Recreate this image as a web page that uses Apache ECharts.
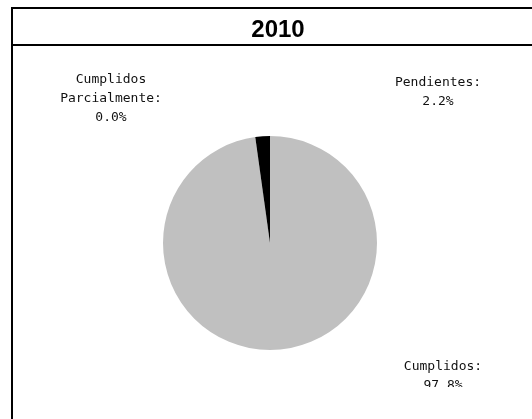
<!DOCTYPE html>
<html>
<head>
<meta charset="utf-8">
<script src="https://cdn.jsdelivr.net/npm/echarts@6/dist/echarts.min.js"></script>
<style>
html,body{margin:0;padding:0;background:#fff;}
#chart{width:532px;height:419px;}
</style>
</head>
<body>
<div id="chart"></div>
<script>
var titleText = '2010';
var categories = ['Cumplidos', 'Cumplidos\nParcialmente', 'Pendientes'];
var values = [97.8, 0.0, 2.2];
var colors = ['#C0C0C0', '#FFFFFF', '#000000'];
var labelPos = [[443, 376], [111, 99], [438, 92]];

var chart = echarts.init(document.getElementById('chart'), null, {renderer: 'canvas'});
var data = categories.map(function (c, i) {
  return {name: c, value: values[i], itemStyle: {color: colors[i]}};
});
chart.setOption({
  animation: false,
  backgroundColor: '#ffffff',
  title: {
    text: titleText,
    left: 273,
    top: 13,
    textAlign: 'center',
    textStyle: {fontFamily: 'Liberation Sans, Arial, sans-serif', fontSize: 24, fontWeight: 'bold', color: '#000'}
  },
  series: [{
    type: 'pie',
    center: [270, 243],
    radius: 107,
    startAngle: 90,
    clockwise: true,
    percentPrecision: 1,
    data: data,
    itemStyle: {borderWidth: 0},
    emphasis: {disabled: true},
    labelLine: {show: false},
    label: {
      show: true,
      position: 'outside',
      formatter: function (p) { return p.name + ':\n' + p.percent.toFixed(1) + '%'; },
      fontFamily: 'DejaVu Sans Mono, monospace',
      fontSize: 13,
      lineHeight: 19,
      color: '#111',
      align: 'center'
    },
    labelLayout: function (params) {
      var pos = labelPos[params.dataIndex];
      return {x: pos[0], y: pos[1], align: 'center', verticalAlign: 'middle'};
    }
  }],
  graphic: [
    {type: 'rect', z: 100, shape: {x: 14, y: 387, width: 520, height: 34}, style: {fill: '#fff'}},
    {type: 'line', z: 101, shape: {x1: 11, y1: 8, x2: 532, y2: 8}, style: {stroke: '#000', lineWidth: 2}},
    {type: 'line', z: 101, shape: {x1: 11, y1: 45, x2: 532, y2: 45}, style: {stroke: '#000', lineWidth: 2}},
    {type: 'line', z: 101, shape: {x1: 12, y1: 7, x2: 12, y2: 419}, style: {stroke: '#000', lineWidth: 2}}
  ]
});
</script>
</body>
</html>
